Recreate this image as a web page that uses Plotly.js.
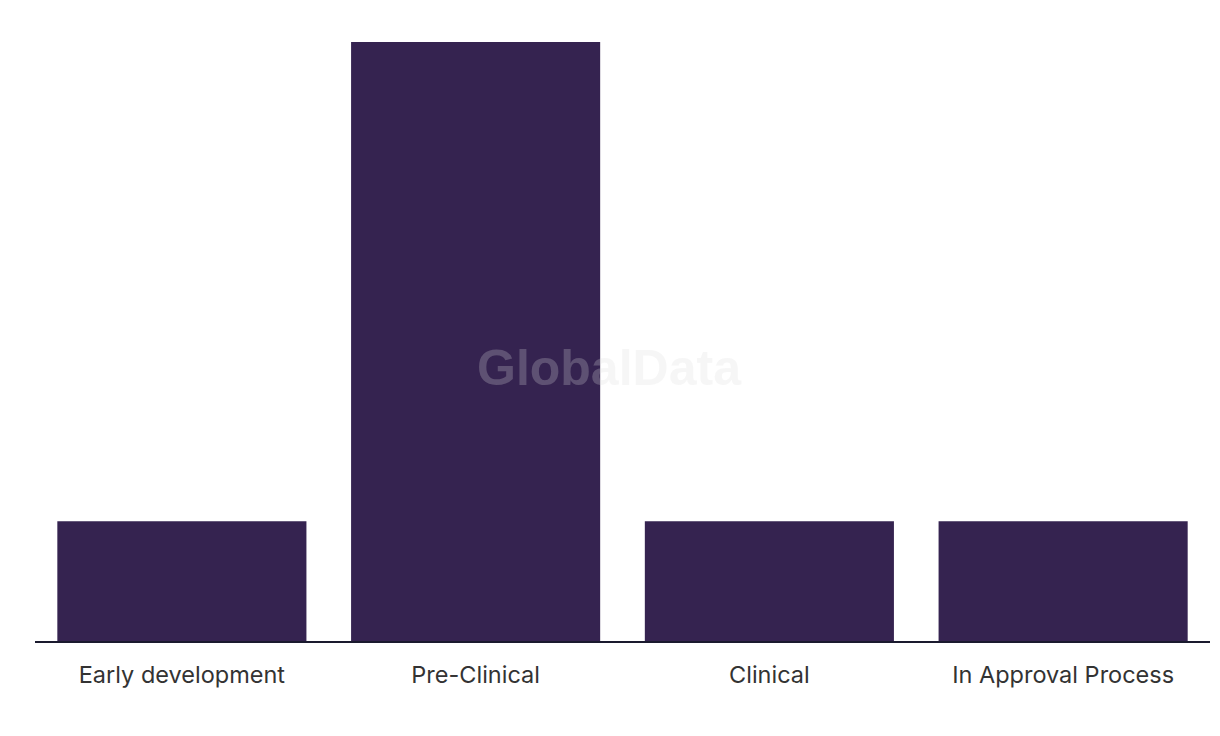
<!DOCTYPE html>
<html>
<head>
<meta charset="utf-8">
<script src="https://cdn.plot.ly/plotly-3.0.1.min.js"></script>
<style>html,body{margin:0;padding:0;background:#fff;}#chart{width:1220px;height:736px;}</style>
</head>
<body>
<div id="chart"></div>
<script>
const categories = ["Early development", "Pre-Clinical", "Clinical", "In Approval Process"];
const values = [1, 5, 1, 1];

const trace = {
  type: "bar",
  x: categories,
  y: values,
  marker: { color: "#352350" },
  hoverinfo: "x+y"
};

const layout = {
  width: 1220,
  height: 736,
  margin: { l: 35, r: 10, t: 42, b: 95 },
  paper_bgcolor: "#ffffff",
  plot_bgcolor: "#ffffff",
  bargap: 0.152,
  showlegend: false,
  font: { family: "Inter, 'Noto Sans', sans-serif", color: "#333333" },
  xaxis: {
    type: "category",
    showgrid: false,
    zeroline: false,
    showline: true,
    linecolor: "#1a1a2e",
    linewidth: 2,
    ticks: "",
    ticklabelstandoff: 12,
    tickfont: { size: 23.5, color: "#333333", family: "Inter, 'Noto Sans', sans-serif" }
  },
  yaxis: {
    range: [0, 5],
    showgrid: false,
    zeroline: false,
    showline: false,
    showticklabels: false,
    ticks: ""
  },
  annotations: [{
    text: "<b>GlobalData</b>",
    xref: "paper", yref: "paper",
    x: 0.489, y: 0.456,
    showarrow: false,
    font: { size: 50, family: "'Liberation Sans', Arial, sans-serif", color: "rgba(220,220,220,0.25)" }
  }]
};

Plotly.newPlot("chart", [trace], layout, { displayModeBar: false, staticPlot: true });
</script>
</body>
</html>
